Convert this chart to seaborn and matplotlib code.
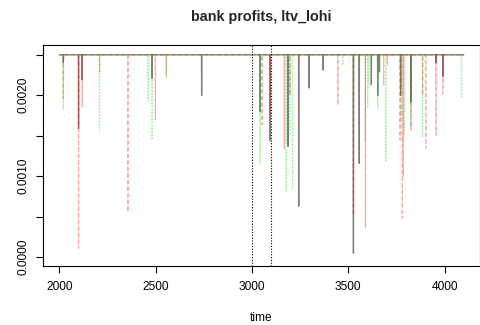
import numpy as np
import pandas as pd
import matplotlib
matplotlib.use("Agg")
import matplotlib.pyplot as plt
import seaborn as sns

# simulation periods and the steady-state profit level
t_start, t_end = 2001, 4100
baseline = 0.0025

# periods where each bank group's profit drops, and the level it drops to
black_t = [2021, 2100, 2119, 2482, 2739, 3043, 3095, 3188, 3243, 3297, 3370,
           3527, 3557, 3620, 3653, 3662, 3772, 3826, 3955, 3991]
black_v = [0.00240, 0.00159, 0.00219, 0.00221, 0.00200, 0.00180, 0.00144,
           0.00137, 0.00063, 0.00209, 0.00231, 0.00005, 0.00116, 0.00213,
           0.00200, 0.00229, 0.00200, 0.00192, 0.00240, 0.00223]

red_t = [2021, 2100, 2119, 2209, 2356, 2499, 2556, 3053, 3095, 3168, 3197,
         3446, 3527, 3589, 3684, 3704, 3769, 3781, 3786, 3826, 3886, 3902,
         3955, 3991]
red_v = [0.00196, 0.00011, 0.00186, 0.00229, 0.00056, 0.00170, 0.00224,
         0.00164, 0.00176, 0.00134, 0.00200, 0.00188, 0.00052, 0.00037,
         0.00213, 0.00238, 0.00145, 0.00048, 0.00100, 0.00157, 0.00200,
         0.00135, 0.00151, 0.00202]

green_t = [2021, 2209, 2461, 2482, 2556, 3043, 3178, 3197, 3211, 3472, 3527,
           3557, 3589, 3601, 3606, 3653, 3696, 3774, 3791, 3826, 3886, 4088]
green_v = [0.00182, 0.00156, 0.00193, 0.00145, 0.00222, 0.00116, 0.00082,
           0.00151, 0.00084, 0.00237, 0.00155, 0.00230, 0.00143, 0.00184,
           0.00213, 0.00184, 0.00119, 0.00170, 0.00151, 0.00160, 0.00148,
           0.00198]

# regime markers
vlines = [3000, 3100]

x_ticks = [2000, 2500, 3000, 3500, 4000]
y_ticks = [0.0000, 0.0005, 0.0010, 0.0015, 0.0020, 0.0025]
y_labels = ["0.0000", "", "0.0010", "", "0.0020", ""]


def profit_series(times, values):
    s = pd.Series(baseline, index=np.arange(t_start, t_end + 1), dtype=float)
    s.loc[times] = values
    return s


sns.set_theme(style="white")
plt.rcParams["font.family"] = ["Liberation Sans", "DejaVu Sans"]

fig = plt.figure(figsize=(4.81, 3.25), dpi=100)
ax = fig.add_axes([43.3 / 481, 1 - 265.7 / 325, (480 - 43.3) / 481, (265.7 - 45) / 325])

groups = [
    (black_t, black_v, (0, 0, 0, 0.5), "-"),
    (red_t, red_v, (1, 0, 0, 0.33), (0, (3, 2))),
    (green_t, green_v, (0, 0.85, 0, 0.33), (0, (1.2, 1.2))),
]
for times, values, col, ls in groups:
    s = profit_series(times, values)
    df = pd.DataFrame({"time": s.index, "profit": s.values})
    sns.lineplot(data=df, x="time", y="profit", ax=ax, color=col[:3], alpha=col[3],
                 linestyle=ls, linewidth=0.95, estimator=None, sort=False)

for v in vlines:
    ax.axvline(v, color="black", linestyle=(0, (1, 1.5)), linewidth=0.8)

ax.set_xlim(1917, 4184)
ax.set_ylim(-0.000104, 0.002621)
ax.set_xticks(x_ticks)
ax.set_xticklabels([str(t) for t in x_ticks])
ax.set_yticks(y_ticks)
ax.set_yticklabels(y_labels, rotation=90, va="center")

for sp in ax.spines.values():
    sp.set_visible(True)
    sp.set_color("black")
    sp.set_linewidth(0.8)
ax.tick_params(axis="both", which="both", direction="out", length=5, width=0.8,
               color="black", labelsize=8.6, pad=6, bottom=True, left=True,
               labelcolor="black")
ax.tick_params(axis="y", pad=5)

ax.set_xlabel("time", fontsize=8.6, labelpad=14, color="black")
ax.set_ylabel("")
fig.text(261.5 / 481, 1 - 17 / 325, "bank profits, ltv_lohi", ha="center", va="center",
         fontsize=10.4, fontweight="bold")

fig.savefig("out.png", dpi=100)
